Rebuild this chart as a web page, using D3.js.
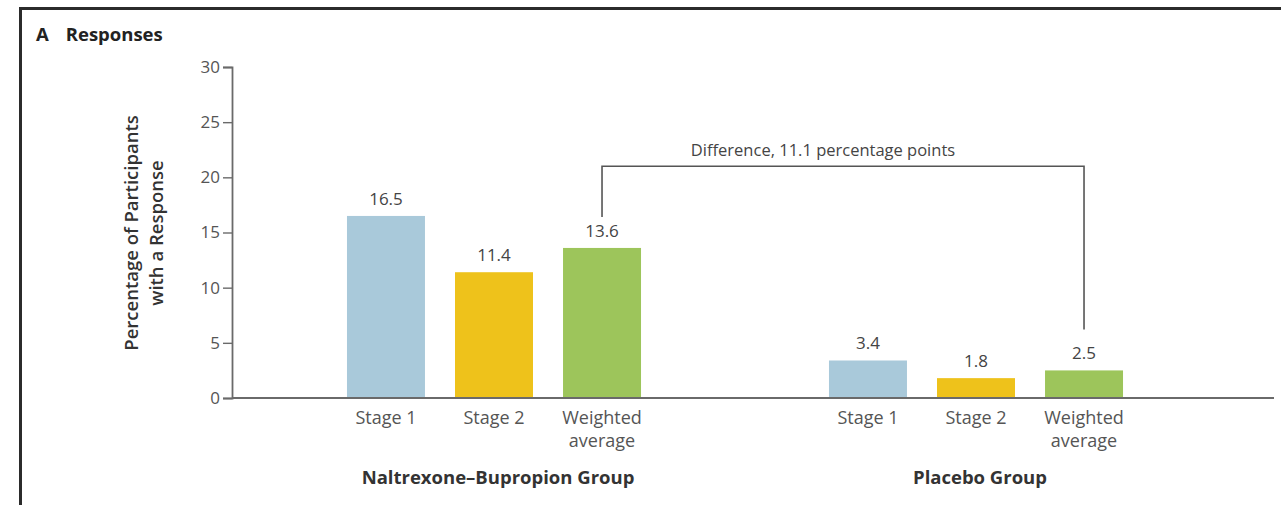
<!DOCTYPE html>
<html>
<head>
<meta charset="utf-8">
<script src="https://cdn.jsdelivr.net/npm/d3@7"></script>
<style>
  html, body { margin: 0; padding: 0; background: #fff; }
  svg { display: block; font-family: "Open Sans", "Noto Sans", sans-serif; }
</style>
</head>
<body>
<svg id="chart" width="1281" height="505"></svg>
<script>
// Response rates by stage, for each treatment group
const groups = ["Naltrexone–Bupropion Group", "Placebo Group"];
const stages = ["Stage 1", "Stage 2", "Weighted average"];
const stageLines = [["Stage 1"], ["Stage 2"], ["Weighted", "average"]];
const naltrexoneValues = [16.5, 11.4, 13.6];
const placeboValues = [3.4, 1.8, 2.5];
const yTicks = [0, 5, 10, 15, 20, 25, 30];
const differenceLabel = "Difference, 11.1 percentage points";
const stageColors = ["#a9c9da", "#eec21b", "#9dc55b"];

const data = groups.map((g, gi) => ({
  group: g,
  values: stages.map((s, si) => ({
    stage: s,
    value: gi === 0 ? naltrexoneValues[si] : placeboValues[si]
  }))
}));

const svg = d3.select("#chart");

// Panel frame (top and left rule)
svg.append("path")
  .attr("d", "M20.5,505 V8.5 H1281")
  .attr("fill", "none")
  .attr("stroke", "#2b2b2b")
  .attr("stroke-width", 3);

// Panel title
const title = svg.append("text")
  .attr("x", 36).attr("y", 41)
  .attr("font-size", 18.5).attr("font-weight", 700).attr("fill", "#222");
title.append("tspan").text("A");
title.append("tspan").attr("dx", 17).text("Responses");

const axisX = 232, axisRight = 1274;
const y = d3.scaleLinear().domain([0, 30]).range([398, 67]);

const x0 = d3.scaleBand().domain(groups).range([253, 1217]);
const x1 = d3.scaleBand().domain(stages).range([0, x0.bandwidth()])
  .paddingInner(0.278).paddingOuter(0.87);

// Y axis
const yAxis = svg.append("g")
  .attr("transform", `translate(${axisX},0)`)
  .call(d3.axisLeft(y).tickValues(yTicks).tickSize(9).tickPadding(3));
yAxis.select(".domain").attr("stroke", "#6a6a6a").attr("stroke-width", 1.8);
yAxis.selectAll(".tick line").attr("stroke", "#6a6a6a").attr("stroke-width", 1.4);
yAxis.selectAll(".tick text")
  .attr("font-family", "\"Open Sans\", sans-serif")
  .attr("font-size", 17).attr("fill", "#555");

// Y axis title, two lines
const yTitle = svg.append("text")
  .attr("transform", `translate(138,233) rotate(-90)`)
  .attr("text-anchor", "middle")
  .attr("font-size", 18.5).attr("font-weight", 600).attr("fill", "#333");
yTitle.append("tspan").attr("x", 0).attr("dy", 0).text("Percentage of Participants");
yTitle.append("tspan").attr("x", 0).attr("dy", 25).text("with a Response");

// Bars
const groupG = svg.selectAll(".group")
  .data(data).join("g")
  .attr("class", "group")
  .attr("transform", d => `translate(${x0(d.group)},0)`);

groupG.selectAll("rect")
  .data(d => d.values).join("rect")
  .attr("x", d => x1(d.stage))
  .attr("y", d => y(d.value))
  .attr("width", x1.bandwidth())
  .attr("height", d => y(0) - y(d.value))
  .attr("fill", (d, i) => stageColors[i]);

// Value labels
groupG.selectAll(".val")
  .data(d => d.values).join("text")
  .attr("class", "val")
  .attr("x", d => x1(d.stage) + x1.bandwidth() / 2)
  .attr("y", d => y(d.value) - 11)
  .attr("text-anchor", "middle")
  .attr("font-size", 17).attr("fill", "#444")
  .text(d => d.value.toFixed(1));

// Category labels
groupG.selectAll(".cat")
  .data(d => d.values.map((v, i) => ({ stage: v.stage, lines: stageLines[i] })))
  .join("text")
  .attr("class", "cat")
  .attr("x", d => x1(d.stage) + x1.bandwidth() / 2)
  .attr("y", 424)
  .attr("text-anchor", "middle")
  .attr("font-size", 18).attr("fill", "#555")
  .each(function(d) {
    const t = d3.select(this);
    d.lines.forEach((l, i) => t.append("tspan")
      .attr("x", x1(d.stage) + x1.bandwidth() / 2)
      .attr("dy", i === 0 ? 0 : 23).text(l));
  });

// Group labels
groupG.append("text")
  .attr("x", x0.bandwidth() / 2 + 4)
  .attr("y", 484)
  .attr("text-anchor", "middle")
  .attr("font-size", 18.5).attr("font-weight", 700).attr("fill", "#333")
  .text(d => d.group);

// X axis baseline
svg.append("line")
  .attr("x1", axisX).attr("x2", axisRight)
  .attr("y1", y(0)).attr("y2", y(0))
  .attr("stroke", "#6a6a6a").attr("stroke-width", 1.8);

// Difference bracket between the two weighted averages
const wa = stages[2];
const leftX = x0(groups[0]) + x1(wa) + x1.bandwidth() / 2;
const rightX = x0(groups[1]) + x1(wa) + x1.bandwidth() / 2;
const topY = y(21);
svg.append("path")
  .attr("d", `M${leftX},${y(naltrexoneValues[2]) - 31} V${topY} H${rightX} V${y(placeboValues[2]) - 41}`)
  .attr("fill", "none").attr("stroke", "#555").attr("stroke-width", 1.6);
svg.append("text")
  .attr("x", (leftX + rightX) / 2 - 20).attr("y", topY - 10)
  .attr("text-anchor", "middle")
  .attr("font-size", 16.5).attr("fill", "#444")
  .text(differenceLabel);
</script>
</body>
</html>
